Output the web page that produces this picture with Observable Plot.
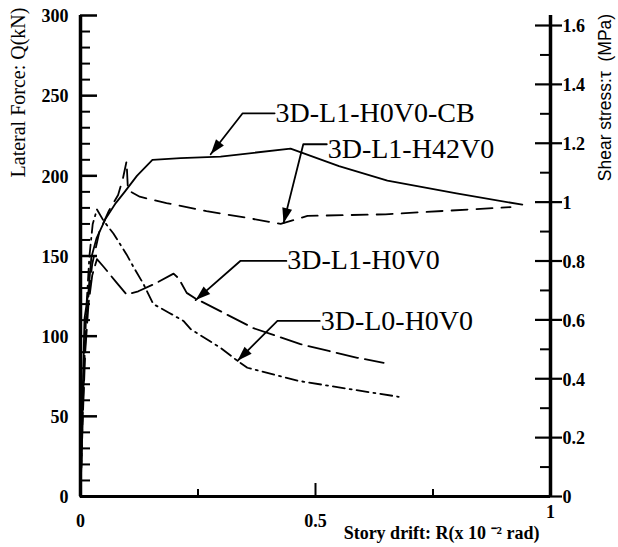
<!DOCTYPE html>
<html><head><meta charset="utf-8">
<script src="https://cdn.jsdelivr.net/npm/d3@7"></script>
<script src="https://cdn.jsdelivr.net/npm/@observablehq/plot@0.6"></script>
<style>body{margin:0;background:#fff}</style>
</head><body><div id="chart"></div>
<script>
// ---------- data ----------
const seriesNames = ["3D-L1-H0V0-CB", "3D-L1-H42V0", "3D-L1-H0V0", "3D-L0-H0V0"];

const cbDrift = [0, 0.003, 0.0085, 0.017, 0.023, 0.034, 0.053, 0.075, 0.094, 0.12, 0.153, 0.213, 0.298, 0.447, 0.55, 0.653, 0.8, 0.94];
const cbForce = [0, 45, 111, 128, 149, 161, 173, 183, 190, 200, 210, 211, 212, 217, 206, 197, 189, 182];

const h42Drift = [0, 0.004, 0.009, 0.015, 0.025, 0.04, 0.06, 0.08, 0.09, 0.098, 0.101, 0.126, 0.183, 0.268, 0.35, 0.426, 0.483, 0.649, 0.915];
const h42Force = [0, 50, 90, 120, 145, 165, 178, 188, 198, 209, 191, 187, 183, 178, 174, 170, 175, 176, 180.5];

const l1Drift = [0, 0.005, 0.01, 0.017, 0.025, 0.035, 0.05, 0.075, 0.098, 0.123, 0.16, 0.198, 0.209, 0.226, 0.247, 0.255, 0.368, 0.468, 0.589, 0.645];
const l1Force = [0, 50, 90, 120, 138, 148, 143, 134, 126, 128, 133, 139, 136, 127, 123, 122, 105, 95, 86.5, 83.4];

const l0Drift = [0, 0.004, 0.008, 0.013, 0.019, 0.026, 0.035, 0.049, 0.07, 0.098, 0.115, 0.134, 0.155, 0.189, 0.219, 0.234, 0.298, 0.334, 0.355, 0.462, 0.568, 0.677];
const l0Force = [0, 45, 85, 120, 150, 170, 179, 172, 164, 151, 142, 132.5, 120, 114.5, 109.5, 104.5, 92.7, 84.6, 80.3, 72.2, 67.2, 62.2];

// annotation callouts (data coordinates)
const annLabelX = [0.415, 0.526, 0.44, 0.511];
const annLabelY = [239, 216.9, 147.5, 109.5];
const annElbowX = [0.345, 0.474, 0.34, 0.419];
const annElbowY = [239, 219.7, 146.9, 109.5];
const annTipX = [0.277, 0.432, 0.245, 0.334];
const annTipY = [213.5, 170.5, 122.5, 84.6];

// axes ticks
const leftTicks = [0, 50, 100, 150, 200, 250, 300];
const leftMinor = d3.range(10, 300, 10).filter(v => v % 50 !== 0);
const rightTicks = [0, 0.2, 0.4, 0.6, 0.8, 1, 1.2, 1.4, 1.6];
const rightMinor = [0.1, 0.3, 0.5, 0.7, 0.9, 1.1, 1.3, 1.5];
const bottomTicks = [0, 0.5];
const bottomEndTick = [1];
const bottomMinor = [0.25, 0.75];
const bottomMid = [0.5];
const KN_PER_MPA = 183.6;

const yLabel = "Lateral Force: Q(kN)";
const yLabelRight = "Shear stress:\u03c4  (MPa)";
const xLabel = "Story drift: R(x 10 \u207b\u00b2 rad)";

// ---------- layout ----------
const W = 618, H = 547, mL = 80, mR = 68, mT = 15, mB = 51;
const innerW = W - mL - mR, innerH = H - mT - mB;
const serif = "'Liberation Serif', 'Times New Roman', serif";
const sans = "'Liberation Sans', Arial, sans-serif";

// tick lengths in pixels, converted to scale units
const xPx = px => px / innerW;          // x domain is [0, 1]
const yPx = px => px * 300 / innerH;    // y domain is [0, 300]

const rows = (name, xs, ys) => xs.map((x, i) => ({name, drift: x, force: ys[i]}));
const cbRows = rows(seriesNames[0], cbDrift, cbForce);
const h42Rows = rows(seriesNames[1], h42Drift, h42Force);
const l1Rows = rows(seriesNames[2], l1Drift, l1Force);
const l0Rows = rows(seriesNames[3], l0Drift, l0Force);

const sx = d3.scaleLinear([0, 1], [mL, W - mR]);
const sy = d3.scaleLinear([0, 300], [H - mB, mT]);

const ann = seriesNames.map((name, i) => {
  const dx = sx(annTipX[i]) - sx(annElbowX[i]);
  const dy = sy(annTipY[i]) - sy(annElbowY[i]);
  return {
    name,
    lx: annLabelX[i], ly: annLabelY[i],
    tipX: annTipX[i], tipY: annTipY[i],
    angle: Math.atan2(dx, -dy) * 180 / Math.PI
  };
});
const leaderRows = seriesNames.flatMap((name, i) => [
  {name, x: annLabelX[i] - 0.002, y: annElbowY[i]},
  {name, x: annElbowX[i], y: annElbowY[i]},
  {name, x: annTipX[i], y: annTipY[i]}
]);

const arrowHead = {
  draw(ctx) {
    ctx.moveTo(0, 0);
    ctx.lineTo(5, 15);
    ctx.lineTo(-5, 15);
    ctx.closePath();
  }
};

const fmtMPa = d => String(+(d / KN_PER_MPA).toFixed(1));
const lineStyle = {x: "drift", y: "force", stroke: "black", strokeWidth: 1.8, curve: "linear"};

const plot = Plot.plot({
  width: W, height: H,
  marginLeft: mL, marginRight: mR, marginTop: mT, marginBottom: mB,
  style: {background: "white", color: "black"},
  x: {domain: [0, 1]},
  y: {domain: [0, 300]},
  marks: [
    // curves
    Plot.line(cbRows, {...lineStyle}),
    Plot.line(h42Rows, {...lineStyle, strokeDasharray: "16,9"}),
    Plot.line(l1Rows, {...lineStyle, strokeDasharray: "22,7"}),
    Plot.line(l0Rows, {...lineStyle, strokeDasharray: "12,5,2,5"}),

    // callouts
    Plot.line(leaderRows, {x: "x", y: "y", z: "name", stroke: "black", strokeWidth: 1.8}),
    Plot.dot(ann, {x: "tipX", y: "tipY", symbol: arrowHead, rotate: "angle", fill: "black", stroke: "none", r: 5}),
    Plot.text(ann, {x: "lx", y: "ly", text: "name", textAnchor: "start", lineAnchor: "middle",
      fontFamily: serif, fontSize: 28, fill: "black"}),

    // left axis: inward ticks
    Plot.ruleY(leftTicks, {y: d => d, x1: 0, x2: xPx(17), stroke: "black", strokeWidth: 2.5}),
    Plot.ruleY(leftMinor, {y: d => d, x1: 0, x2: xPx(10), stroke: "black", strokeWidth: 2}),
    Plot.axisY({ticks: leftTicks, anchor: "left", tickSize: 0, tickPadding: 12, label: null,
      fontFamily: serif, fontSize: 18, fontWeight: "bold", dy: 1}),

    // right axis (shear stress): crossing major ticks, inward minor ticks
    Plot.ruleY(rightTicks.map(v => v * KN_PER_MPA), {y: d => d, x1: 1 - xPx(15), x2: 1 + xPx(12), stroke: "black", strokeWidth: 2.2}),
    Plot.ruleY(rightMinor.map(v => v * KN_PER_MPA), {y: d => d, x1: 1 - xPx(10), x2: 1, stroke: "black", strokeWidth: 2}),
    Plot.axisY({ticks: rightTicks.map(v => v * KN_PER_MPA), anchor: "right", tickSize: 0, tickPadding: 12, label: null,
      tickFormat: fmtMPa, fontFamily: serif, fontSize: 18, fontWeight: "bold", dy: 1}),

    // bottom axis: inward ticks
    Plot.ruleX(bottomMinor, {x: d => d, y1: 0, y2: yPx(7), stroke: "black", strokeWidth: 2}),
    Plot.ruleX(bottomMid, {x: d => d, y1: 0, y2: yPx(13), stroke: "black", strokeWidth: 2}),
    Plot.axisX({ticks: bottomTicks, anchor: "bottom", tickSize: 0, tickPadding: 18, label: null,
      tickFormat: d => String(d), fontFamily: serif, fontSize: 18, fontWeight: "bold"}),
    Plot.axisX({ticks: bottomEndTick, anchor: "bottom", tickSize: 0, tickPadding: 9, label: null,
      tickFormat: d => String(d), fontFamily: serif, fontSize: 18, fontWeight: "bold"}),

    // frame lines
    Plot.ruleX([0], {stroke: "black", strokeWidth: 3.5}),
    Plot.ruleX([1], {stroke: "black", strokeWidth: 3.5}),
    Plot.ruleY([0], {stroke: "black", strokeWidth: 3}),

    // axis titles
    Plot.text([yLabel], {text: d => d, frameAnchor: "top-left", dx: -62, dy: 77, rotate: -90,
      textAnchor: "middle", lineAnchor: "middle", fontFamily: serif, fontSize: 20, fill: "black"}),
    Plot.text([yLabelRight], {text: d => d, frameAnchor: "top-right", dx: 55, dy: 82, rotate: -90,
      textAnchor: "middle", lineAnchor: "middle", fontFamily: sans, fontSize: 17.5, fill: "black"}),
    Plot.text([xLabel], {text: d => d, frameAnchor: "bottom-right", dx: -11, dy: 37,
      textAnchor: "end", lineAnchor: "middle", fontFamily: serif, fontSize: 18, fontWeight: "bold", fill: "black"})
  ]
});
document.getElementById("chart").appendChild(plot);
</script>
</body></html>
